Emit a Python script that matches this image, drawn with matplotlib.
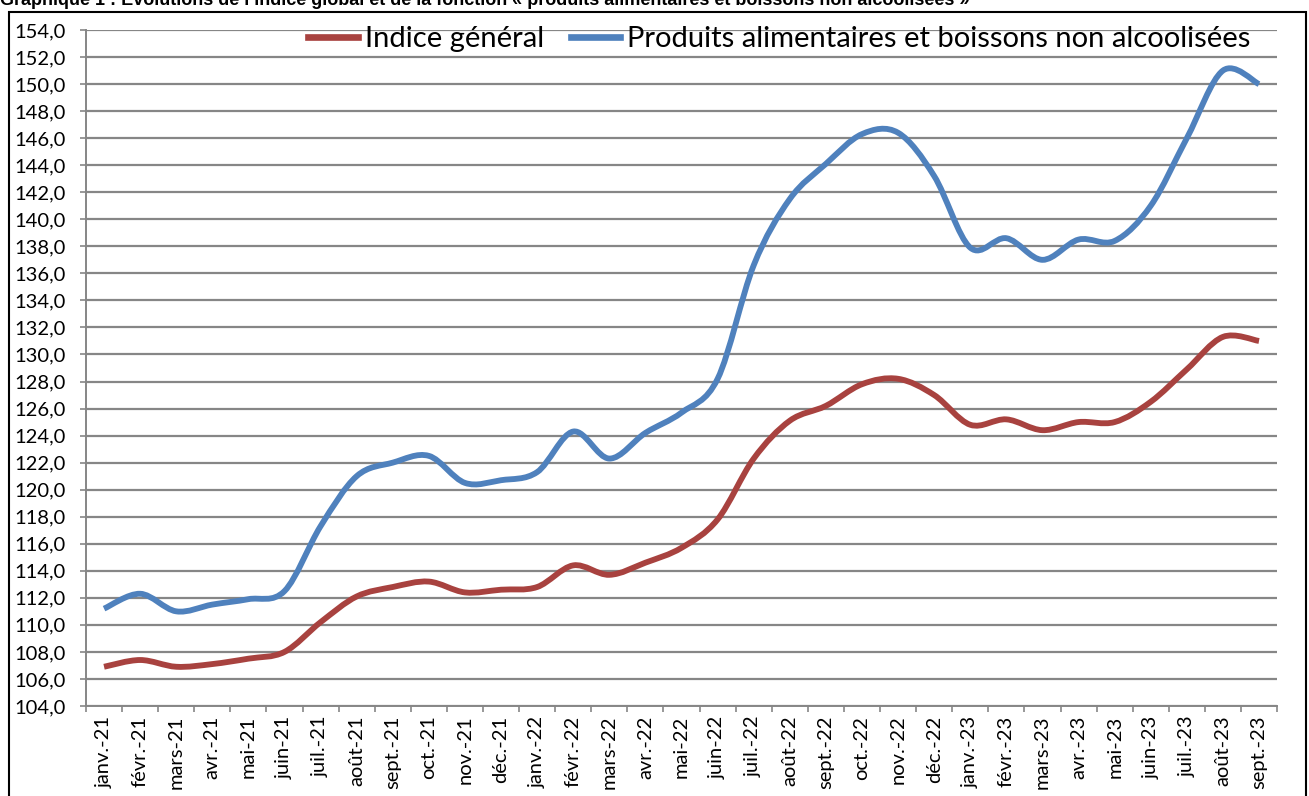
import numpy as np
import matplotlib.pyplot as plt
from matplotlib.path import Path
from matplotlib.patches import PathPatch, Rectangle
from matplotlib.lines import Line2D
from matplotlib.ticker import FuncFormatter

# Mois (janv. 2021 -> sept. 2023)
mois = ['janv.-21', 'févr.-21', 'mars-21', 'avr.-21', 'mai-21', 'juin-21',
        'juil.-21', 'août-21', 'sept.-21', 'oct.-21', 'nov.-21', 'déc.-21',
        'janv.-22', 'févr.-22', 'mars-22', 'avr.-22', 'mai-22', 'juin-22',
        'juil.-22', 'août-22', 'sept.-22', 'oct.-22', 'nov.-22', 'déc.-22',
        'janv.-23', 'févr.-23', 'mars-23', 'avr.-23', 'mai-23', 'juin-23',
        'juil.-23', 'août-23', 'sept.-23']

# Indice général
indice_general = [106.9, 107.4, 106.9, 107.1, 107.5, 108.0,
                  110.2, 112.1, 112.8, 113.2, 112.4, 112.6,
                  112.8, 114.4, 113.7, 114.6, 115.7, 117.8,
                  122.3, 125.1, 126.2, 127.8, 128.2, 127.0,
                  124.8, 125.2, 124.4, 125.0, 125.0, 126.5,
                  128.9, 131.3, 131.0]

# Produits alimentaires et boissons non alcoolisées
alimentaires = [111.2, 112.3, 111.0, 111.5, 111.9, 112.5,
                117.3, 121.0, 122.0, 122.5, 120.5, 120.7,
                121.3, 124.3, 122.3, 124.2, 125.7, 128.2,
                136.6, 141.5, 144.1, 146.3, 146.4, 143.2,
                137.9, 138.6, 137.0, 138.5, 138.4, 141.0,
                146.0, 151.0, 150.0]

rouge = '#A8423F'
bleu = '#4F81BD'
gris = '#868686'
police = 'Lato'


# courbe lissée (type Excel) : Catmull-Rom converti en Bézier
def courbe_lissee(x, y):
    pts = np.column_stack([x, y]).astype(float)
    verts = [pts[0]]
    codes = [Path.MOVETO]
    n = len(pts)
    for i in range(n - 1):
        p0 = pts[i - 1] if i > 0 else pts[i]
        p1 = pts[i]
        p2 = pts[i + 1]
        p3 = pts[i + 2] if i + 2 < n else pts[i + 1]
        c1 = p1 + (p2 - p0) / 6
        c2 = p2 - (p3 - p1) / 6
        verts += [c1, c2, p2]
        codes += [Path.CURVE4] * 3
    return Path(verts, codes)


fig = plt.figure(figsize=(13.09, 7.96), dpi=100)
ax = fig.add_axes([0.0657, 0.1131, 0.9099, 0.8492])

x = np.arange(len(mois))
for serie, couleur in [(indice_general, rouge), (alimentaires, bleu)]:
    patch = PathPatch(courbe_lissee(x, serie), fill=False, edgecolor=couleur,
                      linewidth=4.2, capstyle='butt', joinstyle='round', zorder=3)
    ax.add_patch(patch)

ax.set_xlim(-0.5, len(mois) - 0.5)
ax.set_ylim(104, 154)
ax.set_yticks(np.arange(104, 155, 2))
ax.yaxis.set_major_formatter(FuncFormatter(lambda v, p: f'{v:.1f}'.replace('.', ',')))
ax.grid(axis='y', color=gris, linewidth=1.6)
ax.set_axisbelow(True)

ax.set_xticks(x)
ax.set_xticklabels(mois, rotation=90, family=police, fontsize=14.5)
ax.set_xticks(np.arange(-0.5, len(mois), 1), minor=True)
ax.tick_params(axis='x', which='major', length=0, pad=7)
ax.tick_params(axis='x', which='minor', length=4, width=1.2, color=gris)
ax.tick_params(axis='y', length=4.5, width=1.2, color=gris, pad=10)
for lab in ax.get_yticklabels():
    lab.set_family(police)
    lab.set_fontsize(14.5)

for s in ['top', 'right']:
    ax.spines[s].set_visible(False)
for s in ['left', 'bottom']:
    ax.spines[s].set_color(gris)
    ax.spines[s].set_linewidth(1.4)

handles = [Line2D([], [], color=rouge, linewidth=4.8),
           Line2D([], [], color=bleu, linewidth=4.8)]
leg = ax.legend(handles, ['Indice général', 'Produits alimentaires et boissons non alcoolisées'],
                ncol=2, frameon=False, loc='upper right', bbox_to_anchor=(1.0, 1.045),
                prop={'family': police, 'size': 21},
                handlelength=1.7, handletextpad=0.25, columnspacing=0.9)

# cadre noir autour du graphique
fig.patches.append(Rectangle((0.0069, -0.02), 0.9908, 1.0049, transform=fig.transFigure,
                             fill=False, edgecolor='black', linewidth=1.5))

fig.text(0.0, 0.994, 'Graphique 1 : Evolutions de l\u2019indice global et de la fonction '
         '« produits alimentaires et boissons non alcoolisées »',
         family='Liberation Sans', weight='bold', fontsize=13, va='baseline', ha='left')

plt.savefig('out.png', dpi=100)
